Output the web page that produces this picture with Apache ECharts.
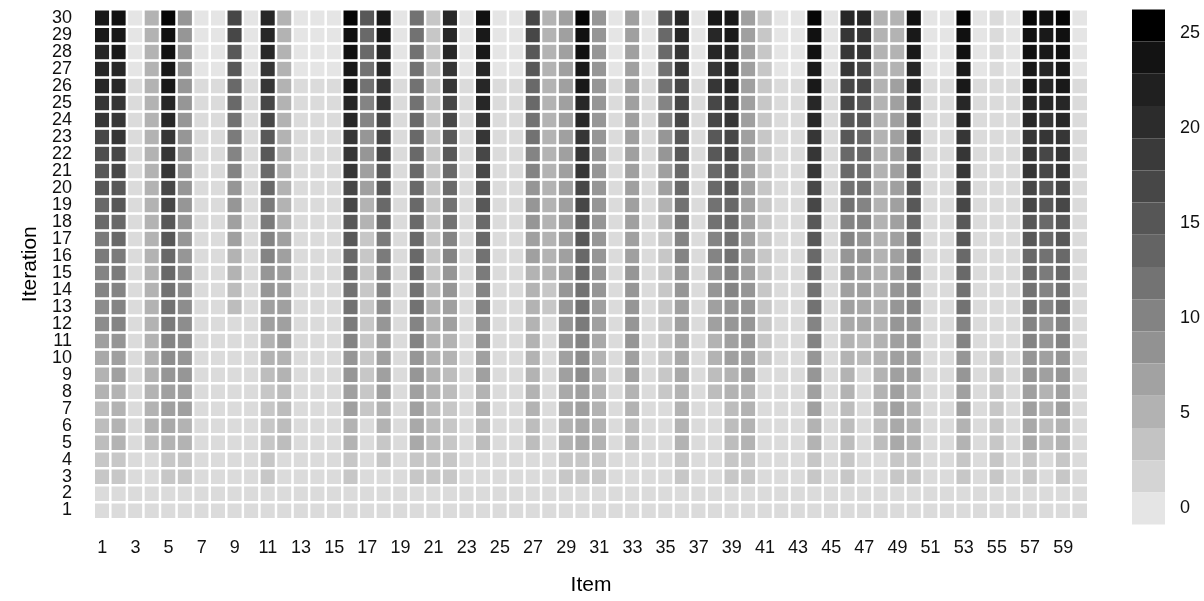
<!DOCTYPE html>
<html><head><meta charset="utf-8">
<script src="https://cdn.jsdelivr.net/npm/echarts@6/dist/echarts.min.js"></script>
<style>html,body{margin:0;padding:0;background:#fff}#c{width:1204px;height:601px}</style>
</head><body><div id="c"></div>
<script>
// ---- categories ----
const items = ['1','2','3','4','5','6','7','8','9','10','11','12','13','14','15','16','17','18','19','20',
  '21','22','23','24','25','26','27','28','29','30','31','32','33','34','35','36','37','38','39','40',
  '41','42','43','44','45','46','47','48','49','50','51','52','53','54','55','56','57','58','59','60'];
const iterations = ['1','2','3','4','5','6','7','8','9','10','11','12','13','14','15',
  '16','17','18','19','20','21','22','23','24','25','26','27','28','29','30'];
const colorbarTicks = [0, 5, 10, 15, 20, 25];
const scaleMax = 25.4;

// ---- values per item, iteration 1..30 ----
const item1  = [1,1,3,3,4,4,4,5,5,6,7,9,9,10,10,11,11,13,13,15,15,16,17,19,19,21,21,21,23,23];
const item2  = [1,1,3,3,5,5,5,5,7,7,8,10,10,10,11,11,13,13,15,15,17,17,19,19,19,21,21,23,23,24];
const item3  = [1,1,1,1,1,1,1,1,1,1,1,1,1,1,1,1,1,1,1,1,1,1,1,1,1,1,0,0,0,0];
const item4  = [1,1,1,1,4,5,5,5,5,5,5,5,5,5,5,5,5,5,5,5,5,5,5,5,5,5,5,5,5,5];
const item5  = [1,1,3,3,5,6,7,7,8,9,10,11,12,12,13,13,15,15,17,17,19,19,19,21,21,23,23,24,24,25];
const item6  = [1,1,3,3,5,5,7,7,8,8,9,9,9,9,9,8,8,8,8,8,8,8,8,8,8,8,8,8,8,8];
const item7  = [1,1,1,1,1,1,1,1,1,1,1,1,1,1,1,1,1,1,1,1,1,1,1,1,1,1,0,0,0,0];
const item8  = [1,1,1,1,1,1,1,1,1,1,1,1,1,1,1,1,1,1,1,1,1,1,1,1,1,1,0,0,0,0];
const item9  = [1,1,1,1,1,1,1,1,1,1,1,1,4,4,5,5,7,7,8,8,10,10,11,12,13,13,15,15,17,17];
const item10 = [1,1,1,1,1,1,1,1,1,1,1,1,1,1,1,1,1,1,1,1,1,1,1,1,1,1,0,0,0,0];
const item11 = [1,1,3,3,3,3,3,3,4,5,5,7,7,8,8,10,10,11,11,13,13,15,15,17,17,19,19,21,21,21];
const item12 = [1,1,1,1,4,4,4,4,5,5,7,7,7,7,7,7,7,5,5,5,5,5,5,5,5,5,5,5,5,5];
const item13 = [1,1,1,1,1,1,1,1,1,1,1,1,1,1,1,1,1,1,1,1,1,1,1,1,1,1,0,0,0,0];
const item14 = [1,1,1,1,1,1,1,1,1,1,1,1,1,1,1,1,1,1,1,1,1,1,1,1,1,1,0,0,0,0];
const item15 = [1,1,1,1,1,1,1,1,1,1,1,1,1,1,1,1,1,1,1,1,1,1,1,1,1,1,0,0,0,0];
const item16 = [1,1,3,3,5,5,7,7,8,8,10,11,12,12,13,13,15,15,17,17,19,19,19,21,21,23,23,24,24,25];
const item17 = [1,1,1,1,1,1,3,3,3,3,3,3,3,3,3,3,3,5,5,7,7,8,8,10,10,12,12,13,13,15];
const item18 = [1,1,1,3,3,5,5,7,7,7,7,8,9,10,10,11,11,13,13,15,15,17,17,17,19,19,21,21,23,23];
const item19 = [1,1,1,1,1,1,1,1,1,1,1,1,1,1,1,1,1,1,1,1,1,1,1,1,1,1,0,0,0,0];
const item20 = [1,1,3,3,6,6,7,7,8,8,10,10,12,12,13,13,13,13,13,13,13,13,13,13,12,12,12,12,12,12];
const item21 = [1,1,3,3,4,4,4,5,5,5,5,5,5,4,3,3,3,3,3,3,3,3,3,3,3,3,3,3,3,3];
const item22 = [1,1,3,3,3,3,3,4,4,5,5,7,7,8,8,10,10,12,12,13,13,15,15,17,17,19,19,21,21,21];
const item23 = [1,1,1,1,1,1,1,1,1,1,1,1,1,1,1,1,1,1,1,1,1,1,1,1,1,1,0,0,0,0];
const item24 = [1,1,1,1,4,4,5,5,7,7,8,8,10,10,11,12,13,13,15,15,17,17,19,19,21,21,21,23,23,24];
const item25 = [1,1,1,1,1,1,1,1,1,1,1,1,1,1,1,1,1,1,1,1,1,1,1,1,1,1,0,0,0,0];
const item26 = [1,1,1,1,1,1,1,1,1,1,1,1,1,1,1,1,1,1,1,1,1,1,1,1,1,1,0,0,0,0];
const item27 = [1,1,1,1,4,4,5,5,5,5,5,5,5,5,5,7,7,8,8,8,10,10,12,12,13,13,15,15,17,17];
const item28 = [1,1,1,1,1,1,1,1,1,1,1,1,3,3,5,5,5,5,5,5,5,5,5,5,5,5,5,5,5,5];
const item29 = [1,1,3,3,5,5,6,6,7,7,8,8,8,8,7,7,7,7,7,7,7,7,7,7,7,7,7,7,7,7];
const item30 = [1,1,3,3,6,6,7,7,9,9,10,11,12,12,13,13,15,15,17,17,19,19,19,21,21,23,23,24,24,25];
const item31 = [1,1,3,3,5,5,5,5,5,5,6,7,7,8,8,8,8,8,8,8,8,8,8,8,8,8,8,8,8,8];
const item32 = [1,1,1,1,1,1,1,1,1,1,1,1,1,1,1,1,1,1,1,1,1,1,1,1,1,1,0,0,0,0];
const item33 = [1,1,1,1,4,4,5,5,7,7,8,8,8,8,8,7,7,7,7,7,7,7,7,7,7,7,7,7,7,7];
const item34 = [1,1,1,1,1,1,1,1,1,1,1,1,1,1,1,1,1,1,1,1,1,1,1,1,1,1,0,0,0,0];
const item35 = [1,1,1,1,1,1,1,3,3,3,3,3,3,3,3,3,3,5,5,7,7,8,8,10,10,12,12,13,13,15];
const item36 = [1,1,3,3,5,5,5,5,6,6,6,7,7,8,8,10,10,12,12,13,13,15,15,17,17,17,19,19,21,21];
const item37 = [1,1,1,1,1,1,1,1,1,1,1,1,1,1,1,1,1,1,1,1,1,1,1,1,1,1,0,0,0,0];
const item38 = [1,1,1,1,1,1,1,4,4,5,5,7,7,8,8,10,10,12,12,13,13,15,15,17,17,19,19,21,21,23];
const item39 = [1,1,3,3,4,4,4,5,5,7,7,8,8,10,10,12,12,13,13,15,15,17,17,19,19,21,21,21,23,23];
const item40 = [1,1,3,3,5,5,5,5,7,7,8,8,8,8,7,7,7,7,7,7,7,7,7,7,7,7,7,7,7,7];
const item41 = [1,1,1,1,1,1,1,1,1,3,3,3,3,3,3,3,3,3,3,3,3,3,3,3,3,3,3,3,3,3];
const item42 = [1,1,1,1,1,1,1,1,1,1,1,1,1,1,1,1,1,1,1,1,1,1,1,1,1,1,0,0,0,0];
const item43 = [1,1,1,1,1,1,1,1,1,1,1,1,1,1,1,1,1,1,1,1,1,1,1,1,1,1,0,0,0,0];
const item44 = [1,1,3,3,5,5,7,7,8,8,10,10,12,12,13,13,15,15,17,17,19,19,19,21,21,23,23,24,24,25];
const item45 = [1,1,1,1,1,1,1,1,1,1,1,1,1,1,1,1,1,1,1,1,1,1,1,1,1,1,0,0,0,0];
const item46 = [1,1,3,3,4,4,4,5,5,5,5,6,7,7,8,8,10,10,12,12,13,13,15,15,17,17,19,19,19,21];
const item47 = [1,1,1,1,1,1,1,1,1,4,4,6,6,7,7,8,8,10,10,12,12,13,13,15,15,17,17,19,19,21];
const item48 = [1,1,1,1,4,4,5,5,5,5,5,5,5,5,5,5,5,5,5,5,5,5,5,5,5,5,5,5,5,5];
const item49 = [1,1,3,3,6,6,7,7,7,7,7,8,8,8,7,7,7,7,7,7,7,7,7,7,7,7,5,5,5,5];
const item50 = [1,1,3,3,5,5,5,5,7,7,8,8,10,10,12,12,13,13,15,15,17,17,19,19,19,21,21,23,23,24];
const item51 = [1,1,1,1,1,1,1,1,1,1,1,1,1,1,1,1,1,1,1,1,1,1,1,1,1,1,0,0,0,0];
const item52 = [1,1,1,1,1,1,1,1,1,1,1,1,1,1,1,1,1,1,1,1,1,1,1,1,1,1,0,0,0,0];
const item53 = [1,1,3,3,5,5,7,7,8,8,10,10,12,12,13,13,15,15,17,17,19,19,19,21,21,23,23,24,24,25];
const item54 = [1,1,1,1,1,1,1,1,1,1,1,1,1,1,1,1,1,1,1,1,1,1,1,1,1,1,0,0,0,0];
const item55 = [1,1,3,3,3,3,3,3,3,3,1,1,1,1,1,1,1,1,1,1,1,1,1,1,1,1,1,1,1,1];
const item56 = [1,1,1,1,1,1,1,1,1,1,1,1,1,1,1,1,1,1,1,1,1,1,1,1,1,1,0,0,0,0];
const item57 = [1,1,3,3,6,6,7,7,8,8,10,10,12,12,13,13,15,15,17,17,19,19,19,21,21,23,23,24,24,25];
const item58 = [1,1,1,1,4,4,5,5,7,7,8,8,10,10,11,12,13,13,15,15,17,17,19,19,21,21,21,23,23,24];
const item59 = [1,1,3,3,5,5,7,7,8,8,10,10,12,12,13,13,15,15,17,17,19,19,19,21,21,23,23,24,24,25];
const item60 = [1,1,1,1,1,1,1,1,1,1,1,1,1,1,1,1,1,1,1,1,1,1,1,1,1,1,0,0,0,0];

const columns = [item1,item2,item3,item4,item5,item6,item7,item8,item9,item10,item11,item12,item13,item14,item15,
  item16,item17,item18,item19,item20,item21,item22,item23,item24,item25,item26,item27,item28,item29,item30,
  item31,item32,item33,item34,item35,item36,item37,item38,item39,item40,item41,item42,item43,item44,item45,
  item46,item47,item48,item49,item50,item51,item52,item53,item54,item55,item56,item57,item58,item59,item60];

const heat = [];
columns.forEach((col, xi) => col.forEach((v, yi) => heat.push([xi, yi, v])));

// ---- grey90 -> black gradient interpolated in CIE Lab (like ggplot) ----
function toLin(c){c/=255;return c<=0.04045?c/12.92:Math.pow((c+0.055)/1.055,2.4);}
function toSrgb(y){return y<=0.0031308?12.92*y:1.055*Math.pow(y,1/2.4)-0.055;}
function LofY(Y){return Y>0.008856?116*Math.cbrt(Y)-16:903.3*Y;}
function YofL(L){return L>8?Math.pow((L+16)/116,3):L/903.3;}
const L0 = LofY(toLin(229));
function greyAt(t){
  const g = Math.max(0, Math.min(255, Math.round(toSrgb(YofL(L0*(1-t)))*255)));
  const h = g.toString(16).padStart(2,'0');
  return '#'+h+h+h;
}
const stops = [];
for (let i = 0; i <= 60; i++) stops.push(greyAt(i/60));

const nbin = 16;
const step = scaleMax/(nbin-1);
const pieces = [];
for (let k = 0; k < nbin; k++) pieces.push({min:(k-0.5)*step, max:(k+0.5)*step, color: greyAt(k/(nbin-1))});

const FONT = '"Liberation Sans", Arial, sans-serif';
const TXT = '#111111';
const chart = echarts.init(document.getElementById('c'), null, {renderer:'canvas'});
chart.setOption({
  animation: false,
  backgroundColor: '#ffffff',
  textStyle: {fontFamily: FONT},
  grid: [
    {left: 94, right: 116, top: 9.4, bottom: 76.4},
    {left: 1132, top: 9.4, width: 33, height: 515.2}
  ],
  xAxis: [
    {type:'category', data: items, gridIndex:0,
     axisLine:{show:false}, axisTick:{show:false}, splitLine:{show:false},
     axisLabel:{interval:1, fontSize:18, color:TXT, margin:20, fontFamily:FONT},
     name:'Item', nameLocation:'middle', nameGap:56,
     nameTextStyle:{fontSize:21, color:'#000', fontFamily:FONT}},
    {type:'value', gridIndex:1, show:false, min:0, max:1}
  ],
  yAxis: [
    {type:'category', data: iterations, gridIndex:0,
     axisLine:{show:false}, axisTick:{show:false}, splitLine:{show:false},
     axisLabel:{interval:0, fontSize:18, color:TXT, margin:22, fontFamily:FONT},
     name:'Iteration', nameLocation:'middle', nameGap:50, nameRotate:90,
     nameTextStyle:{fontSize:21, color:'#000', fontFamily:FONT}},
    {type:'value', gridIndex:1, position:'right', min:-0.5*step, max:(nbin-0.5)*step,
     axisLine:{show:false}, axisTick:{show:false}, splitLine:{show:false},
     axisLabel:{customValues: colorbarTicks, fontSize:18, color:TXT, margin:15, fontFamily:FONT}}
  ],
  visualMap: [
    {type:'continuous', show:false, seriesIndex:0, dimension:2, min:0, max:scaleMax, inRange:{color:stops}},
    {type:'piecewise', show:true, seriesIndex:1, orient:'vertical', left:1132, top:9.4, padding:0,
     itemWidth:33, itemHeight:32.2, itemGap:0, itemSymbol:'rect', showLabel:false, selectedMode:false,
     hoverLink:false, pieces: pieces}
  ],
  series: [
    {type:'heatmap', data: heat, xAxisIndex:0, yAxisIndex:0,
     itemStyle:{borderColor:'#ffffff', borderWidth:2.5},
     emphasis:{disabled:true}},
    {type:'scatter', xAxisIndex:1, yAxisIndex:1, data: [], silent:true}
  ]
});
</script></body></html>
